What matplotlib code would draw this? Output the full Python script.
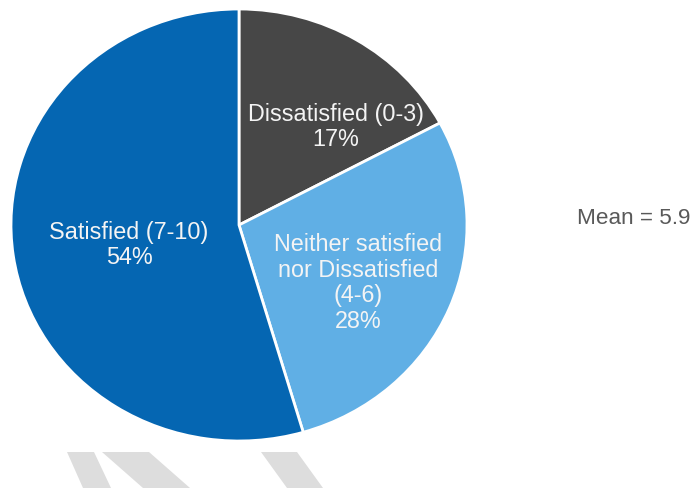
import matplotlib
matplotlib.use("Agg")
import matplotlib.pyplot as plt
from matplotlib.patches import Polygon

plt.rcParams['font.family'] = ['Liberation Sans', 'DejaVu Sans']

categories = ["Dissatisfied (0-3)", "Neither satisfied\nnor Dissatisfied\n(4-6)", "Satisfied (7-10)"]
values = [17, 28, 54]
colors = ["#474747", "#60AFE5", "#0566B2"]
mean_label = "Mean = 5.9"

W, H = 698, 489
fig = plt.figure(figsize=(W / 100, H / 100), dpi=100)

# decorative light gray watermark stripes (pixel coords)
stripes = [
    [(67, 453), (94, 453), (111, 489), (83, 489)],
    [(102, 453), (149, 453), (190, 489), (143, 489)],
    [(261, 453), (297, 453), (323, 489), (287, 489)],
]
for s in stripes:
    pts = [(x / W, 1 - y / H) for x, y in s]
    fig.patches.append(Polygon(pts, closed=True, facecolor="#DDDDDD",
                               edgecolor="none", transform=fig.transFigure))

cx, cy, rx, ry = 239, 226, 228, 216
ax = fig.add_axes([(cx - rx) / W, 1 - (cy + ry) / H, 2 * rx / W, 2 * ry / H])
ax.pie(values, colors=colors, startangle=90, counterclock=False,
       wedgeprops=dict(edgecolor="white", linewidth=2))
ax.set_aspect('auto')
ax.set_xlim(-1, 1)
ax.set_ylim(-1, 1)
ax.axis('off')

label_px = [(336, 127), (358, 283), (129, 245)]
for cat, v, (px, py) in zip(categories, values, label_px):
    ax.text((px - cx) / rx, (cy - py) / ry, f"{cat}\n{v}%", ha="center", va="center",
            color="#F4F4F4", fontsize=16.8, linespacing=1.15)

fig.text(577 / W, 1 - 219 / H, mean_label, ha="left", va="center",
         color="#595959", fontsize=16.2)

fig.savefig("out.png", dpi=100)
